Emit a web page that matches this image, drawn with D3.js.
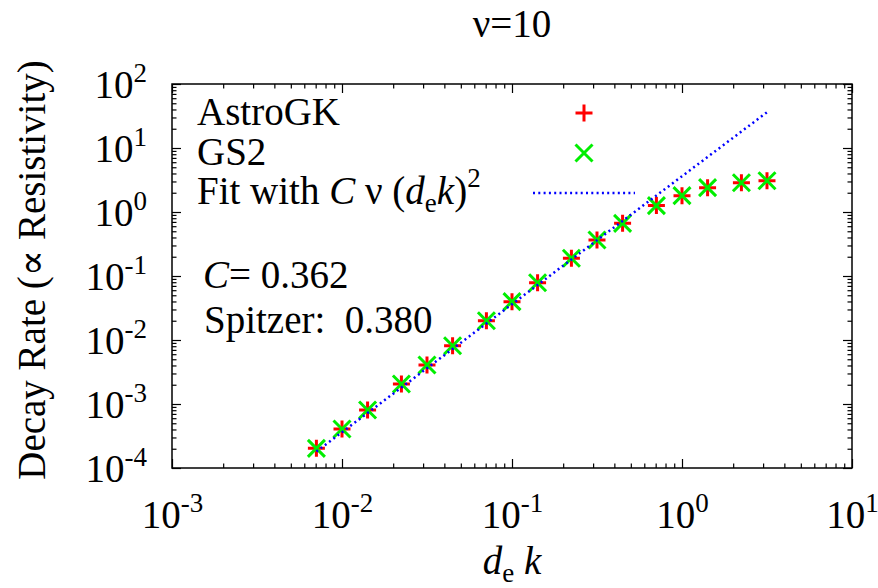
<!DOCTYPE html>
<html>
<head>
<meta charset="utf-8">
<script src="https://cdn.jsdelivr.net/npm/d3@7"></script>
<style>
  html, body { margin: 0; padding: 0; background: #fff; }
  svg text { font-family: "Liberation Serif", "Times New Roman", "DejaVu Serif", serif; fill: #000; white-space: pre; }
</style>
</head>
<body>
<svg id="chart" width="878" height="588"></svg>
<script>
// Wavenumber d_e k of each run
const kValues = [0.00707, 0.01, 0.01414, 0.02236, 0.03162, 0.04472, 0.07071, 0.1,
                 0.1414, 0.2236, 0.3162, 0.4472, 0.7071, 1.0, 1.414, 2.236, 3.162];
// Measured decay rates
const astroGK = [2.03e-4, 4.06e-4, 8.06e-4, 2.05e-3, 4.07e-3, 8.15e-3, 0.0200, 0.0397,
                 0.0786, 0.189, 0.365, 0.665, 1.26, 1.80, 2.40, 2.87, 3.08];
const gs2     = [2.03e-4, 4.06e-4, 8.06e-4, 2.05e-3, 4.07e-3, 8.15e-3, 0.0200, 0.0397,
                 0.0786, 0.189, 0.365, 0.665, 1.26, 1.80, 2.40, 2.87, 3.08];
// Fit parameters
const nu = 10;
const fitC = 0.362;
const spitzer = 0.380;
// Axis decades
const xDecades = [-3, -2, -1, 0, 1];
const yDecades = [-4, -3, -2, -1, 0, 1, 2];

const svg = d3.select("#chart");
const L = 172, R = 852, T = 84, B = 468;
const FS = 39, SUP = 27;

const x = d3.scaleLog().domain([1e-3, 1e1]).range([L, R]);
const y = d3.scaleLog().domain([1e-4, 1e2]).range([B, T]);

const majorX = xDecades.map(e => Math.pow(10, e));
const majorY = yDecades.map(e => Math.pow(10, e));
function minors(decades) {
  const out = [];
  for (let i = 0; i < decades.length - 1; i++)
    for (let m = 2; m <= 9; m++) out.push(m * Math.pow(10, decades[i]));
  return out;
}
const minorX = minors(xDecades), minorY = minors(yDecades);

// Ticks point inward on all four sides
function tickLayer(axis, tx, ty) {
  const g = svg.append("g").attr("transform", `translate(${tx},${ty})`).call(axis);
  g.select(".domain").remove();
  g.selectAll(".tick line").attr("stroke", "#000").attr("stroke-width", 1.2);
  return g;
}
const MJ = 9, MN = 4.5;
tickLayer(d3.axisBottom(x).tickValues(minorX).tickSize(-MN).tickFormat(""), 0, B);
tickLayer(d3.axisTop(x).tickValues(minorX).tickSize(-MN).tickFormat(""), 0, T);
tickLayer(d3.axisLeft(y).tickValues(minorY).tickSize(-MN).tickFormat(""), L, 0);
tickLayer(d3.axisRight(y).tickValues(minorY).tickSize(-MN).tickFormat(""), R, 0);
tickLayer(d3.axisTop(x).tickValues(majorX).tickSize(-MJ).tickFormat(""), 0, T);
tickLayer(d3.axisRight(y).tickValues(majorY).tickSize(-MJ).tickFormat(""), R, 0);

function powLabel(sel) {
  sel.each(function(d) {
    const t = d3.select(this);
    const e = Math.round(Math.log10(d));
    t.text(null).attr("font-size", FS);
    t.append("tspan").text("10");
    t.append("tspan").attr("font-size", SUP).attr("dy", -16).text(String(e));
  });
}

const gx = tickLayer(d3.axisBottom(x).tickValues(majorX).tickSize(-MJ).tickFormat(d => d), 0, B);
gx.selectAll(".tick text").attr("y", 60).attr("dy", null).attr("text-anchor", "middle")
  .attr("fill", "#000").call(powLabel);

const gy = tickLayer(d3.axisLeft(y).tickValues(majorY).tickSize(-MJ).tickFormat(d => d), L, 0);
gy.selectAll(".tick text").attr("x", -25).attr("y", 13).attr("dy", null).attr("text-anchor", "end")
  .attr("fill", "#000").call(powLabel);

// Frame
svg.append("rect").attr("x", L).attr("y", T).attr("width", R - L).attr("height", B - T)
  .attr("fill", "none").attr("stroke", "#000").attr("stroke-width", 1.5);

// Markers
const RED = "#ff0000", GREEN = "#00ee00", BLUE = "#0000ff";
function plus(g, cx, cy, s) {
  g.append("path").attr("d", `M${cx - s},${cy}H${cx + s}M${cx},${cy - s}V${cy + s}`)
    .attr("stroke", RED).attr("stroke-width", 3).attr("fill", "none");
}
function cross(g, cx, cy, s) {
  g.append("path").attr("d", `M${cx - s},${cy - s}L${cx + s},${cy + s}M${cx - s},${cy + s}L${cx + s},${cy - s}`)
    .attr("stroke", GREEN).attr("stroke-width", 3).attr("fill", "none");
}

const gA = svg.append("g");
kValues.forEach((k, i) => plus(gA, x(k), y(astroGK[i]), 8.5));
const gG = svg.append("g");
kValues.forEach((k, i) => cross(gG, x(k), y(gs2[i]), 8.5));

// Fit curve C * nu * (d_e k)^2 over the simulated range
const fitLine = d3.line().x(d => x(d)).y(d => y(fitC * nu * d * d));
svg.append("path").datum(kValues).attr("d", fitLine)
  .attr("fill", "none").attr("stroke", BLUE).attr("stroke-width", 2.5)
  .attr("stroke-dasharray", "2,3.3");

// Legend
const LX = 197, SX = 584;
svg.append("text").attr("x", LX).attr("y", 125).attr("font-size", FS).text("AstroGK");
plus(svg, SX, 113, 8.5);
svg.append("text").attr("x", LX).attr("y", 164.5).attr("font-size", FS).text("GS2");
cross(svg, SX, 153, 8.5);
const fitT = svg.append("text").attr("x", LX).attr("y", 204).attr("font-size", FS);
fitT.append("tspan").text("Fit with ");
fitT.append("tspan").attr("font-style", "italic").text("C");
fitT.append("tspan").text(" ν (");
fitT.append("tspan").attr("font-style", "italic").text("d");
fitT.append("tspan").attr("font-size", SUP).attr("dy", 8).text("e");
fitT.append("tspan").attr("font-style", "italic").attr("dy", -8).text("k");
fitT.append("tspan").text(")");
fitT.append("tspan").attr("font-size", SUP).attr("dy", -17).text("2");
svg.append("line").attr("x1", 533).attr("x2", 635).attr("y1", 193).attr("y2", 193)
  .attr("stroke", BLUE).attr("stroke-width", 2.5).attr("stroke-dasharray", "2,3.3");

// Fit coefficient annotations
const cT = svg.append("text").attr("x", 203).attr("y", 288).attr("font-size", FS);
cT.append("tspan").attr("font-style", "italic").text("C");
cT.append("tspan").text("= " + fitC.toFixed(3));
svg.append("text").attr("x", 204).attr("y", 333).attr("font-size", FS)
  .text("Spitzer:  " + spitzer.toFixed(3));

// Title
svg.append("text").attr("x", (L + R) / 2).attr("y", 37).attr("text-anchor", "middle")
  .attr("font-size", FS).text("ν=" + nu);

// Axis titles
const xl = svg.append("text").attr("x", (L + R) / 2).attr("y", 574).attr("text-anchor", "middle")
  .attr("font-size", FS);
xl.append("tspan").attr("font-style", "italic").text("d");
xl.append("tspan").attr("font-size", SUP).attr("dy", 8).text("e");
xl.append("tspan").attr("font-style", "italic").attr("dy", -8).text(" k");

svg.append("text").attr("transform", `translate(45,270) rotate(-90)`)
  .attr("text-anchor", "middle").attr("font-size", FS)
  .text("Decay Rate (∝ Resistivity)");
</script>
</body>
</html>
